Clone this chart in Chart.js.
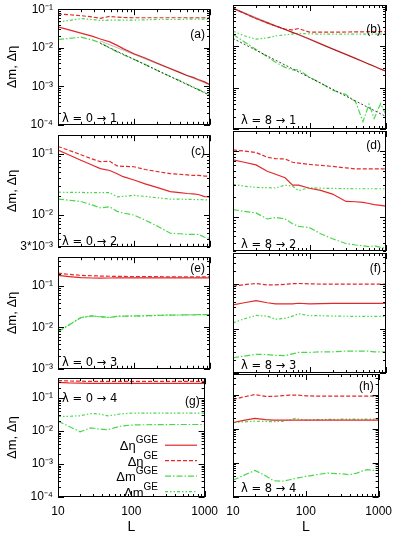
<!DOCTYPE html>
<html>
<head>
<meta charset="utf-8">
<script src="https://cdn.jsdelivr.net/npm/chart.js@4"></script>
<style>
  body { margin: 0; background: #fff; }
  #fig { position: relative; width: 399px; height: 534px; overflow: hidden; }
  #fig canvas { position: absolute; }
</style>
</head>
<body>
<div id="fig"></div>
<script>
// system sizes L (x values shared by all panels)
const L = [10, 14, 20, 28, 36, 48, 60, 72, 100, 140, 200, 300, 400, 500, 600, 700, 850, 1000];

// (a) lambda 0 -> 1
const etaGGE_a = [0.035, 0.029, 0.024, 0.020, 0.0168, 0.0142, 0.0115, 0.0095, 0.0070, 0.0054, 0.0040, 0.0029, 0.0023, 0.0019, 0.0017, 0.0015, 0.0013, 0.0011];
const etaGE_a  = [0.075, 0.072, 0.068, 0.063, 0.058, 0.065, 0.062, 0.061, 0.060, 0.060, 0.060, 0.060, 0.060, 0.060, 0.060, 0.060, 0.060, 0.060];
const mGGE_a   = [0.0162, 0.0175, 0.0188, 0.016, 0.0135, 0.0098, 0.0078, 0.0066, 0.0050, 0.0037, 0.0026, 0.0018, 0.0014, 0.00113, 0.00096, 0.00083, 0.0007, 0.0006];
const mGE_a    = [0.046, 0.051, 0.057, 0.054, 0.051, 0.052, 0.052, 0.052, 0.052, 0.053, 0.054, 0.054, 0.054, 0.055, 0.055, 0.055, 0.055, 0.055];
// (b) lambda 8 -> 1
const etaGGE_b = [0.083, 0.063, 0.047, 0.037, 0.031, 0.0255, 0.0218, 0.0193, 0.015, 0.0115, 0.0087, 0.0064, 0.0051, 0.0043, 0.0037, 0.0033, 0.0028, 0.0025];
const etaGE_b  = [0.083, 0.063, 0.047, 0.037, 0.031, 0.026, 0.025, 0.027, 0.022, 0.022, 0.022, 0.0222, 0.0224, 0.0225, 0.0226, 0.0226, 0.0227, 0.0227];
const mGGE_b   = [0.0195, 0.0129, 0.0084, 0.0056, 0.0041, 0.0031, 0.0027, 0.0027, 0.0018, 0.0013, 0.00087, 0.00068, 0.00046, 0.00015, 0.0004, 0.00018, 0.00041, 0.00022];
const mGE_b    = [0.0235, 0.018, 0.015, 0.016, 0.0178, 0.019, 0.020, 0.0206, 0.020, 0.0198, 0.0198, 0.0198, 0.0198, 0.0198, 0.0198, 0.0198, 0.0198, 0.0198];
// (c) lambda 0 -> 2
const etaGGE_c = [0.114, 0.095, 0.078, 0.065, 0.057, 0.053, 0.047, 0.042, 0.037, 0.032, 0.028, 0.024, 0.023, 0.0223, 0.022, 0.0215, 0.0198, 0.0196];
const etaGE_c  = [0.131, 0.113, 0.096, 0.082, 0.074, 0.075, 0.063, 0.062, 0.061, 0.055, 0.051, 0.047, 0.046, 0.045, 0.044, 0.044, 0.043, 0.043];
const mGGE_c   = [0.0181, 0.0173, 0.0165, 0.0145, 0.013, 0.0135, 0.0114, 0.0107, 0.0099, 0.0082, 0.0066, 0.0050, 0.0049, 0.0048, 0.0048, 0.0048, 0.0043, 0.0041];
const mGE_c    = [0.0234, 0.0233, 0.0232, 0.023, 0.023, 0.023, 0.0196, 0.020, 0.0208, 0.020, 0.019, 0.0181, 0.018, 0.0179, 0.0178, 0.0177, 0.0176, 0.0175];
// (d) lambda 8 -> 2
const etaGGE_d = [0.073, 0.067, 0.061, 0.049, 0.044, 0.039, 0.030, 0.030, 0.027, 0.025, 0.022, 0.017, 0.0168, 0.0165, 0.0158, 0.0152, 0.0148, 0.0144];
const etaGE_d  = [0.103, 0.099, 0.094, 0.080, 0.076, 0.075, 0.067, 0.065, 0.062, 0.060, 0.058, 0.055, 0.053, 0.053, 0.053, 0.053, 0.053, 0.053];
const mGGE_d   = [0.0128, 0.012, 0.0114, 0.0092, 0.0097, 0.0092, 0.0078, 0.0071, 0.0068, 0.0055, 0.0046, 0.0039, 0.0037, 0.0036, 0.0035, 0.0036, 0.0034, 0.0033];
const mGE_d    = [0.031, 0.029, 0.0278, 0.0275, 0.0272, 0.030, 0.029, 0.0248, 0.0275, 0.027, 0.0268, 0.0266, 0.0265, 0.0265, 0.0265, 0.0265, 0.0265, 0.0265];
// (e) lambda 0 -> 3
const etaGGE_e = [0.182, 0.170, 0.160, 0.157, 0.156, 0.157, 0.158, 0.158, 0.158, 0.158, 0.158, 0.158, 0.158, 0.158, 0.158, 0.158, 0.158, 0.158];
const etaGE_e  = [0.205, 0.192, 0.182, 0.178, 0.175, 0.173, 0.172, 0.171, 0.170, 0.169, 0.169, 0.168, 0.168, 0.168, 0.167, 0.167, 0.167, 0.167];
const mGGE_e   = [0.0079, 0.0115, 0.0172, 0.019, 0.0182, 0.0175, 0.0186, 0.0188, 0.019, 0.0192, 0.0196, 0.0199, 0.020, 0.0201, 0.0202, 0.0203, 0.0204, 0.0204];
const mGE_e    = [0.0078, 0.0116, 0.0175, 0.0192, 0.018, 0.0173, 0.0188, 0.0186, 0.0188, 0.019, 0.0195, 0.020, 0.020, 0.0202, 0.0203, 0.0204, 0.0205, 0.0205];
// (f) lambda 8 -> 3
const etaGGE_f = [0.034, 0.038, 0.0426, 0.038, 0.036, 0.036, 0.036, 0.037, 0.036, 0.0365, 0.037, 0.037, 0.037, 0.037, 0.037, 0.037, 0.037, 0.037];
const etaGE_f  = [0.090, 0.097, 0.103, 0.096, 0.096, 0.099, 0.102, 0.103, 0.101, 0.100, 0.100, 0.100, 0.100, 0.100, 0.100, 0.100, 0.100, 0.100];
const mGGE_f   = [0.0022, 0.0024, 0.00264, 0.0026, 0.0025, 0.00245, 0.0027, 0.0029, 0.0029, 0.003, 0.003, 0.0031, 0.0031, 0.0031, 0.0031, 0.003, 0.003, 0.003];
const mGE_f    = [0.0134, 0.0165, 0.0197, 0.019, 0.0162, 0.017, 0.019, 0.0215, 0.0194, 0.0195, 0.019, 0.0189, 0.0188, 0.0188, 0.0188, 0.0188, 0.0188, 0.0188];
// (g) lambda 0 -> 4
const etaGGE_g = [0.30, 0.29, 0.285, 0.28, 0.28, 0.28, 0.28, 0.28, 0.28, 0.28, 0.28, 0.28, 0.28, 0.28, 0.28, 0.28, 0.28, 0.28];
const etaGE_g  = [0.34, 0.33, 0.325, 0.32, 0.32, 0.32, 0.32, 0.32, 0.32, 0.32, 0.32, 0.32, 0.32, 0.32, 0.32, 0.32, 0.32, 0.32];
const mGGE_g   = [0.020, 0.014, 0.0095, 0.0125, 0.0115, 0.011, 0.0127, 0.014, 0.0152, 0.0155, 0.0156, 0.0157, 0.0158, 0.0158, 0.0158, 0.0158, 0.0158, 0.0158];
const mGE_g    = [0.028, 0.028, 0.029, 0.034, 0.033, 0.029, 0.031, 0.033, 0.035, 0.035, 0.035, 0.035, 0.035, 0.035, 0.035, 0.035, 0.035, 0.035];
// (h) lambda 8 -> 4
const etaGGE_h = [0.0152, 0.0175, 0.020, 0.0185, 0.0178, 0.0178, 0.0178, 0.0178, 0.0178, 0.0178, 0.0178, 0.0178, 0.0178, 0.0178, 0.0178, 0.0178, 0.0178, 0.0178];
const etaGE_h  = [0.072, 0.085, 0.100, 0.088, 0.088, 0.093, 0.096, 0.097, 0.092, 0.090, 0.090, 0.090, 0.090, 0.090, 0.090, 0.090, 0.090, 0.090];
const mGGE_h   = [0.00031, 0.00043, 0.0006, 0.00042, 0.0003, 0.00029, 0.00032, 0.00035, 0.0004, 0.00045, 0.0005, 0.00048, 0.00045, 0.0005, 0.00058, 0.00063, 0.0006, 0.0006];
const mGE_h    = [0.015, 0.0158, 0.0166, 0.0163, 0.016, 0.0165, 0.018, 0.020, 0.018, 0.0185, 0.0187, 0.019, 0.019, 0.019, 0.019, 0.019, 0.019, 0.019];

// black guide lines in (a) and (b)
const fitL_a = [36, 1000];
const fitEta_a = [0.015, 0.00108];
const fitM_a = [0.013, 0.00058];
const fitL_b = [10, 1000];
const fitEta_b = [0.085, 0.0025];
const fitM_b = [0.0155, 0.0002];

// y ticks per row
const yTicks = [[1e-4, 1e-3, 1e-2, 1e-1], [3e-3, 1e-2, 1e-1], [1e-3, 1e-2, 1e-1], [1e-4, 1e-3, 1e-2, 1e-1]];
const yTickLabels = [['10⁻⁴', '10⁻³', '10⁻²', '10⁻¹'], ['3*10⁻³', '10⁻²', '10⁻¹'], ['10⁻³', '10⁻²', '10⁻¹'], ['10⁻⁴', '10⁻³', '10⁻²', '10⁻¹']];
const yRange = [[1e-4, 0.1], [3e-3, 0.2], [1e-3, 0.5], [1e-4, 0.4]];
const xTicks = [10, 100, 1000];

const seriesNames = [['Δη', 'GGE'], ['Δη', 'GE'], ['Δm', 'GGE'], ['Δm', 'GE']];

const RED = '#e3282a';
const GREEN = '#4ad84a';
const styles = [
    { color: RED, dash: [], width: 1.2 },
    { color: RED, dash: [4, 2], width: 1.2 },
    { color: GREEN, dash: [6, 2, 1.5, 2], width: 1.2 },
    { color: GREEN, dash: [3, 2, 1.5, 2, 1.5, 2], width: 1.2 }
];

// plot area geometry (pixels)
const rowTop = [5, 131, 253, 374];
const rowBottom = [129, 251, 373, 497];
const colLeft = [58, 233];
const colRight = [210, 386];

const panels = [
    { tag: '(a)', lam: 'λ = 0 → 1', row: 0, col: 0, s: [etaGGE_a, etaGE_a, mGGE_a, mGE_a], fit: [fitL_a, fitEta_a, fitM_a], tagY: 25, lamY: -6 },
    { tag: '(b)', lam: 'λ = 8 → 1', row: 0, col: 1, s: [etaGGE_b, etaGE_b, mGGE_b, mGE_b], fit: [fitL_b, fitEta_b, fitM_b], tagY: 25, lamY: -8 },
    { tag: '(c)', lam: 'λ = 0 → 2', row: 1, col: 0, s: [etaGGE_c, etaGE_c, mGGE_c, mGE_c], tagY: 16, lamY: -5 },
    { tag: '(d)', lam: 'λ = 8 → 2', row: 1, col: 1, s: [etaGGE_d, etaGE_d, mGGE_d, mGE_d], tagY: 15, lamY: -6 },
    { tag: '(e)', lam: 'λ = 0 → 3', row: 2, col: 0, s: [etaGGE_e, etaGE_e, mGGE_e, mGE_e], tagY: 11, lamY: -6 },
    { tag: '(f)', lam: 'λ = 8 → 3', row: 2, col: 1, s: [etaGGE_f, etaGE_f, mGGE_f, mGE_f], tagY: 16, lamY: -7 },
    { tag: '(g)', lam: 'λ = 0 → 4', row: 3, col: 0, s: [etaGGE_g, etaGE_g, mGGE_g, mGE_g], tagY: 23, lamY: 21, legend: true },
    { tag: '(h)', lam: 'λ = 8 → 4', row: 3, col: 1, s: [etaGGE_h, etaGE_h, mGGE_h, mGE_h], tagY: 13, lamY: -8 }
];

const FONT = '"Liberation Sans", Arial, sans-serif';
Chart.defaults.font.family = FONT;
Chart.defaults.color = '#000';

// frame, inward ticks, panel texts and legend
const deco = {
    id: 'deco',
    afterDatasetsDraw(chart, args, o) {
        const { ctx, chartArea: a, scales: { x, y } } = chart;
        ctx.save();
        ctx.strokeStyle = '#000';
        ctx.lineWidth = 1;
        ctx.setLineDash([]);
        ctx.beginPath();
        for (let d = 10; d <= 1000; d *= 10) {
            for (let k = 1; k <= 9; k++) {
                const v = k * d;
                if (v > 1000) break;
                const px = Math.round(x.getPixelForValue(v)) + 0.5;
                const len = k === 1 ? 6 : 3;
                ctx.moveTo(px, a.bottom); ctx.lineTo(px, a.bottom - len);
                ctx.moveTo(px, a.top); ctx.lineTo(px, a.top + len);
            }
        }
        for (let e = -5; e <= 0; e++) {
            for (let k = 1; k <= 9; k++) {
                const v = k * Math.pow(10, e);
                if (v < y.min * 0.999 || v > y.max * 1.001) continue;
                const py = Math.round(y.getPixelForValue(v)) + 0.5;
                const len = k === 1 ? 6 : 3;
                ctx.moveTo(a.left, py); ctx.lineTo(a.left + len, py);
                ctx.moveTo(a.right, py); ctx.lineTo(a.right - len, py);
            }
        }
        ctx.stroke();
        ctx.strokeRect(Math.round(a.left) + 0.5, Math.round(a.top) + 0.5, Math.round(a.right - a.left) - 1, Math.round(a.bottom - a.top) - 1);

        ctx.fillStyle = '#000';
        ctx.font = '12px ' + FONT;
        ctx.textBaseline = 'middle';
        ctx.textAlign = 'right';
        ctx.fillText(o.tag, a.right - 5, a.top + o.tagY);
        // DejaVu has a proper arrow glyph
        ctx.font = '11.5px "DejaVu Sans", sans-serif';
        ctx.textAlign = 'left';
        const ly = o.lamY < 0 ? a.bottom + o.lamY : a.top + o.lamY;
        ctx.fillText(o.lam, a.left + o.lamX, ly);

        if (o.legend) {
            const rows = [67, 82.5, 98, 113.5];
            chart.data.datasets.slice(0, 4).forEach((ds, i) => {
                const ry = a.top + rows[i];
                ctx.strokeStyle = ds.borderColor;
                ctx.lineWidth = ds.borderWidth;
                ctx.setLineDash(ds.borderDash);
                ctx.beginPath();
                ctx.moveTo(a.left + 107, ry);
                ctx.lineTo(a.left + 139, ry);
                ctx.stroke();
                const right = a.left + 100;
                ctx.textBaseline = 'alphabetic';
                ctx.textAlign = 'right';
                ctx.font = '10px ' + FONT;
                const supW = ctx.measureText(seriesNames[i][1]).width;
                ctx.fillText(seriesNames[i][1], right, ry - 2);
                ctx.font = '13px ' + FONT;
                ctx.fillText(seriesNames[i][0], right - supW, ry + 5);
            });
        }
        ctx.restore();
    }
};

const fig = document.getElementById('fig');

panels.forEach(p => {
    const bottomRow = p.row === 3;
    const padTop = 8;
    const padBottom = bottomRow ? 0 : 8;
    const xH = bottomRow ? 37 : 0;
    const padL = p.col === 0 ? 0 : 15;
    const padR = p.col === 0 ? 15 : 13;
    const yW = p.col === 0 ? 58 : 0;

    const left = p.col === 0 ? 0 : colLeft[1] - padL;
    const width = colRight[p.col] + padR - left;
    const top = rowTop[p.row] - padTop;
    const height = rowBottom[p.row] + xH + padBottom - top;

    const canvas = document.createElement('canvas');
    canvas.width = width;
    canvas.height = height;
    canvas.style.left = left + 'px';
    canvas.style.top = top + 'px';
    fig.appendChild(canvas);

    const datasets = p.s.map((vals, i) => ({
        data: vals.map((v, j) => ({ x: L[j], y: v })),
        borderColor: styles[i].color,
        borderDash: styles[i].dash,
        borderWidth: styles[i].width,
        pointRadius: 0,
        fill: false,
        tension: 0
    }));
    if (p.fit) {
        const [fl, fe, fm] = p.fit;
        datasets.push({
            data: fl.map((l, j) => ({ x: l, y: fe[j] })),
            borderColor: 'rgba(0,0,0,0.55)', borderWidth: 0.5, borderDash: [], pointRadius: 0, order: -1
        });
        datasets.push({
            data: fl.map((l, j) => ({ x: l, y: fm[j] })),
            borderColor: 'rgba(0,0,0,0.75)', borderWidth: 1, borderDash: [2, 2], pointRadius: 0, order: -1
        });
    }

    const labelMap = {};
    yTicks[p.row].forEach((v, i) => { labelMap[v] = yTickLabels[p.row][i]; });

    new Chart(canvas, {
        type: 'line',
        data: { datasets: datasets },
        options: {
            responsive: false,
            animation: false,
            devicePixelRatio: 1,
            layout: { padding: { left: padL, right: padR, top: padTop, bottom: padBottom } },
            plugins: {
                legend: { display: false },
                tooltip: { enabled: false },
                deco: { tag: p.tag, lam: p.lam, tagY: p.tagY, lamY: p.lamY, lamX: p.col === 0 ? 4 : 8, legend: !!p.legend }
            },
            scales: {
                x: {
                    type: 'logarithmic',
                    min: 10,
                    max: 1000,
                    display: bottomRow,
                    afterBuildTicks: s => { s.ticks = xTicks.map(v => ({ value: v })); },
                    afterFit: s => { s.height = xH; },
                    grid: { display: false, drawTicks: false },
                    border: { display: false },
                    ticks: { autoSkip: false, maxRotation: 0, padding: 7, font: { size: 12 }, callback: v => String(v) },
                    title: { display: true, text: 'L', font: { size: 14, lineHeight: 1 }, padding: { top: 0, bottom: 0 } }
                },
                y: {
                    type: 'logarithmic',
                    min: yRange[p.row][0],
                    max: yRange[p.row][1],
                    display: p.col === 0,
                    afterBuildTicks: s => { s.ticks = yTicks[p.row].map(v => ({ value: v })); },
                    afterFit: s => { s.width = yW; },
                    grid: { display: false, drawTicks: false },
                    border: { display: false },
                    ticks: { autoSkip: false, padding: 5, font: { size: 12 }, callback: v => labelMap[v] || '' },
                    title: { display: true, text: 'Δm, Δη', font: { size: 13 }, padding: { top: 5, bottom: 0 } }
                }
            }
        },
        plugins: [deco]
    });
});
</script>
</body>
</html>
